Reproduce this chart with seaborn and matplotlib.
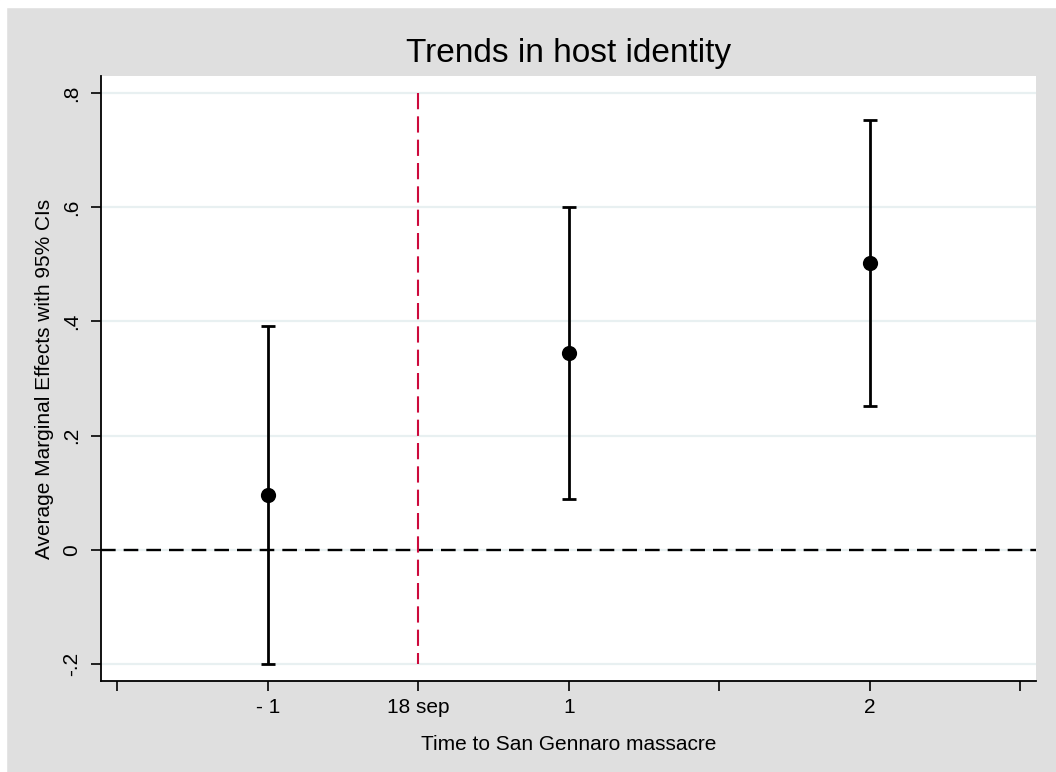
import numpy as np
import pandas as pd
import matplotlib
matplotlib.use("Agg")
import matplotlib.pyplot as plt
import matplotlib.patches as mpatches
import seaborn as sns

# -----------------------------------
# Data
# -----------------------------------
tick_pos = [-2, -1, 0, 1, 2, 3, 4]
tick_labels = ["", "- 1", "18 sep", "1", "", "2", ""]
period = [-1, 1, 3]
estimate = [0.095, 0.344, 0.502]
ci_low = [-0.201, 0.089, 0.252]
ci_high = [0.392, 0.600, 0.752]
y_ticks = [-0.2, 0.0, 0.2, 0.4, 0.6, 0.8]
y_tick_labels = ["-.2", "0", ".2", ".4", ".6", ".8"]
event_x = 0

df = pd.DataFrame({"period": period, "estimate": estimate,
                   "ci_low": ci_low, "ci_high": ci_high})

# -----------------------------------
# Style
# -----------------------------------
BG = "#dfdfdf"
GRID = "#e8f0f1"
RED = "#cc0a3c"

sns.set_theme(style="white")
plt.rcParams["font.family"] = ["Liberation Sans", "DejaVu Sans"]

fig = plt.figure(figsize=(10.56, 7.72), dpi=100, facecolor=BG)
# thin white strip along top/left edge as in the reference
fig.patches.append(mpatches.Rectangle((0, 0.991), 1, 0.009, transform=fig.transFigure,
                                      color="white", zorder=-1))
fig.patches.append(mpatches.Rectangle((0, 0), 0.006, 1, transform=fig.transFigure,
                                      color="white", zorder=-1))

ax = fig.add_axes([0.0954, 0.1179, 0.8857, 0.7837])
ax.set_facecolor("white")

# grid lines
for yv in y_ticks:
    ax.axhline(yv, color=GRID, lw=1.6, zorder=0)

# zero line and event line
ax.axhline(0, color="black", lw=1.7, linestyle=(0, (6.2, 3.4)), zorder=1)
ax.plot([event_x, event_x], [0.8, -0.2], color=RED, lw=1.5,
        linestyle=(0, (7.8, 3.4)), zorder=1)

# confidence intervals
ax.errorbar(df["period"], df["estimate"],
            yerr=[df["estimate"] - df["ci_low"], df["ci_high"] - df["estimate"]],
            fmt="none", ecolor="black", elinewidth=2.0, capsize=5, capthick=2.0, zorder=2)

# point estimates
sns.scatterplot(data=df, x="period", y="estimate", color="black", s=120,
                edgecolor="black", linewidth=0, zorder=3, ax=ax)

ax.set_xlim(-2.11, 4.105)
ax.set_ylim(-0.23, 0.83)
ax.set_xticks(tick_pos)
ax.set_xticklabels(tick_labels)
ax.set_yticks(y_ticks)
ax.set_yticklabels(y_tick_labels, rotation=90, va="center")

for side in ["top", "right"]:
    ax.spines[side].set_visible(False)
for side in ["left", "bottom"]:
    ax.spines[side].set_color("black")
    ax.spines[side].set_linewidth(1.3)

ax.tick_params(axis="both", direction="out", length=7, width=1.2, color="black",
               labelsize=15, labelcolor="black", bottom=True, left=True)
ax.tick_params(axis="y", pad=7)
ax.tick_params(axis="x", pad=5)

ax.set_xlabel("Time to San Gennaro massacre", fontsize=15, labelpad=13, color="black")
ax.set_ylabel("Average Marginal Effects with 95% CIs", fontsize=15, labelpad=6, color="black")
ax.set_title("Trends in host identity", fontsize=24, pad=10, color="black")

fig.savefig("out.png", dpi=100, facecolor=BG)
plt.close(fig)
